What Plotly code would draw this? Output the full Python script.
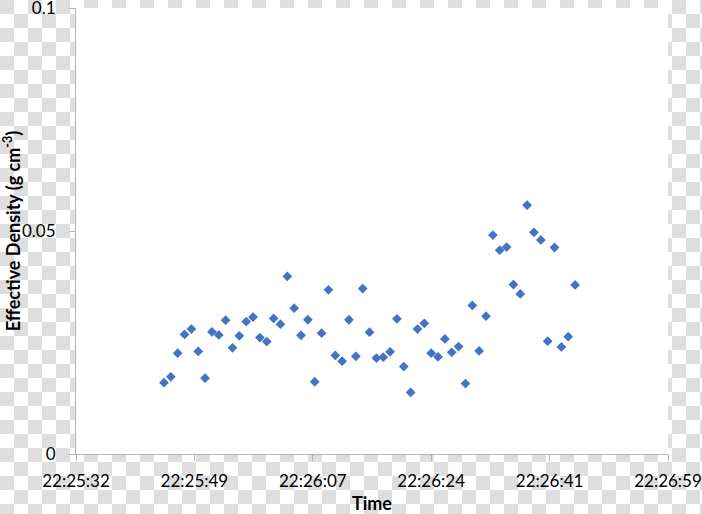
import plotly.graph_objects as go

# ---- data ----
times = [
    "22:25:45", "22:25:46", "22:25:47", "22:25:48", "22:25:49", "22:25:50",
    "22:25:51", "22:25:52", "22:25:53", "22:25:54", "22:25:55", "22:25:56",
    "22:25:57", "22:25:58", "22:25:59", "22:26:00", "22:26:01", "22:26:02",
    "22:26:03", "22:26:04", "22:26:05", "22:26:06", "22:26:07", "22:26:08",
    "22:26:09", "22:26:10", "22:26:11", "22:26:12", "22:26:13", "22:26:14",
    "22:26:15", "22:26:16", "22:26:17", "22:26:18", "22:26:19", "22:26:20",
    "22:26:21", "22:26:22", "22:26:23", "22:26:24", "22:26:25", "22:26:26",
    "22:26:27", "22:26:28", "22:26:29", "22:26:30", "22:26:31", "22:26:32",
    "22:26:33", "22:26:34", "22:26:35", "22:26:36", "22:26:37", "22:26:38",
    "22:26:39", "22:26:40", "22:26:41", "22:26:42", "22:26:43", "22:26:44",
    "22:26:45",
]
density = [
    0.0160, 0.0173, 0.0226, 0.0268, 0.0280, 0.0230, 0.0170, 0.0274, 0.0267,
    0.0300, 0.0238, 0.0265, 0.0297, 0.0307, 0.0261, 0.0252, 0.0304, 0.0291,
    0.0398, 0.0327, 0.0266, 0.0301, 0.0162, 0.0271, 0.0368, 0.0221, 0.0208,
    0.0301, 0.0219, 0.0371, 0.0273, 0.0215, 0.0217, 0.0229, 0.0303, 0.0196,
    0.0138, 0.0280, 0.0293, 0.0226, 0.0218, 0.0258, 0.0228, 0.0241, 0.0158,
    0.0333, 0.0231, 0.0309, 0.0491, 0.0457, 0.0464, 0.0380, 0.0359, 0.0558,
    0.0497, 0.0480, 0.0253, 0.0463, 0.0240, 0.0263, 0.0379,
]
x_tick_labels = ["22:25:32", "22:25:49", "22:26:07", "22:26:24", "22:26:41", "22:26:59"]
y_tick_values = [0, 0.05, 0.1]
y_tick_labels = ["0", "0.05", "0.1"]

# axis in seconds since midnight (Excel day fractions 0.9344 .. 0.9354, step 0.0002)
x_start = 0.9344 * 86400
x_step = 0.0002 * 86400


def to_seconds(t):
    h, m, s = (int(v) for v in t.split(":"))
    return h * 3600 + m * 60 + s


xs = [to_seconds(t) for t in times]
x_tickvals = [x_start + k * x_step for k in range(len(x_tick_labels))]

# ---- layout geometry ----
W, H = 702, 514
L, R, T, B = 76, 34, 8, 60
PW, PH = W - L - R, H - T - B
SQ = 14


def px2paper(x, y):
    return (x - L) / PW, (H - B - y) / PH


segs = []
for j in range(H // SQ + 1):
    for i in range(W // SQ + 1):
        if (i + j) % 2 == 0:
            x0, y0 = px2paper(i * SQ, j * SQ)
            x1, y1 = px2paper(min((i + 1) * SQ, W), min((j + 1) * SQ, H))
            segs.append(f"M{x0:.5f},{y0:.5f}H{x1:.5f}V{y1:.5f}H{x0:.5f}Z")

AXIS_COLOR = "#b3b3b3"
FONT = "Lato"

fig = go.Figure()
fig.add_trace(go.Scatter(
    x=xs, y=density, mode="markers",
    marker=dict(symbol="diamond", size=7.5, color="#4472C4",
                line=dict(width=0)),
    showlegend=False,
))

fig.update_layout(
    template="none",
    width=W, height=H,
    margin=dict(l=L, r=R, t=T, b=B, pad=0, autoexpand=False),
    paper_bgcolor="white", plot_bgcolor="white",
    font=dict(family=FONT, size=17, color="black"),
    shapes=[
        dict(type="path", path="".join(segs), xref="paper", yref="paper",
             fillcolor="#dedede", line=dict(width=0), layer="below"),
        dict(type="rect", x0=0, x1=1, y0=0, y1=1, xref="paper", yref="paper",
             fillcolor="white", line=dict(width=0), layer="below"),
    ],
    xaxis=dict(
        automargin=False,
        range=[x_start, x_start + 5 * x_step],
        tickmode="array", tickvals=x_tickvals, ticktext=x_tick_labels,
        ticks="outside", ticklen=6, tickcolor=AXIS_COLOR, tickwidth=1,
        showline=True, linecolor=AXIS_COLOR, linewidth=1,
        showgrid=False, zeroline=False,
        tickfont=dict(family=FONT, size=17, color="black"),
        ticklabelstandoff=6, ticklabeloverflow="allow",
        title=dict(text="<b>Time</b>", font=dict(family=FONT, size=18, color="black"),
                   standoff=13),
    ),
    yaxis=dict(
        automargin=False,
        range=[0, 0.1],
        tickmode="array", tickvals=y_tick_values, ticktext=y_tick_labels,
        ticks="outside", ticklen=6, tickcolor=AXIS_COLOR, tickwidth=1,
        showline=True, linecolor=AXIS_COLOR, linewidth=1,
        showgrid=False, zeroline=False,
        tickfont=dict(family=FONT, size=17, color="black"),
        ticklabelstandoff=10, ticklabeloverflow="allow",
        title=dict(text="<b>Effective Density (g cm<sup>-3</sup>)</b>",
                   font=dict(family=FONT, size=18, color="black"),
                   standoff=1),
    ),
)

fig.write_html(
    "out.html",
    config={"displayModeBar": False},
    post_script="document.body.style.margin='0';document.body.style.overflow='hidden';",
)
